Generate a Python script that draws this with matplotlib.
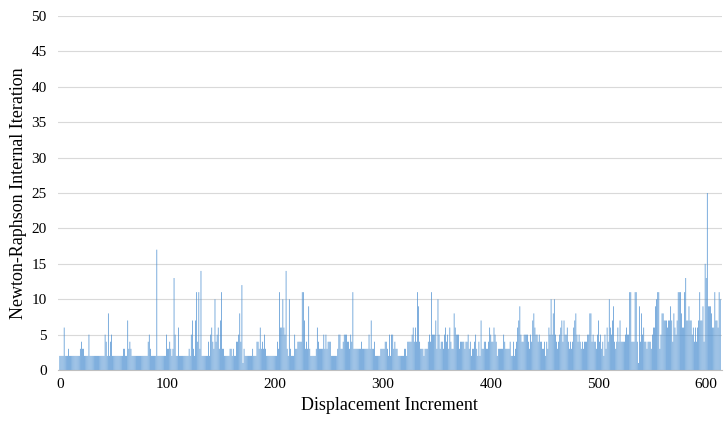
import numpy as np
import matplotlib
matplotlib.use("Agg")
import matplotlib.pyplot as plt

# Newton-Raphson iterations per displacement increment
iterations = [
    2, 2, 2, 2, 6, 2, 2, 2, 3, 2,
    2, 2, 2, 2, 2, 2, 2, 2, 2, 3,
    4, 3, 3, 2, 2, 2, 2, 5, 2, 2,
    2, 2, 2, 2, 2, 2, 2, 2, 2, 2,
    2, 2, 5, 4, 2, 8, 2, 4, 5, 2,
    2, 2, 2, 2, 2, 2, 2, 2, 2, 3,
    3, 2, 2, 7, 3, 4, 3, 2, 2, 2,
    2, 2, 2, 2, 2, 2, 2, 2, 2, 2,
    2, 2, 4, 5, 3, 2, 2, 2, 2, 2,
    17, 2, 2, 2, 2, 2, 2, 2, 2, 5,
    3, 3, 4, 3, 2, 3, 13, 5, 2, 2,
    6, 2, 2, 2, 2, 2, 2, 2, 2, 2,
    3, 2, 5, 7, 3, 2, 7, 11, 4, 11,
    3, 14, 2, 2, 2, 2, 2, 2, 4, 2,
    5, 6, 4, 3, 10, 4, 5, 6, 3, 7,
    11, 3, 3, 2, 2, 2, 2, 2, 3, 3,
    2, 3, 2, 2, 4, 4, 5, 8, 4, 12,
    1, 3, 2, 2, 2, 2, 2, 2, 2, 3,
    2, 2, 2, 4, 4, 3, 6, 3, 4, 3,
    5, 3, 2, 2, 2, 2, 2, 2, 2, 2,
    2, 2, 4, 3, 11, 6, 6, 10, 6, 5,
    14, 3, 2, 10, 3, 2, 2, 2, 5, 3,
    3, 4, 4, 4, 4, 11, 11, 7, 3, 4,
    3, 9, 3, 2, 2, 2, 2, 2, 3, 6,
    4, 3, 3, 3, 3, 5, 3, 5, 3, 4,
    4, 4, 2, 2, 2, 2, 2, 2, 3, 5,
    5, 3, 3, 4, 5, 5, 5, 4, 4, 3,
    5, 4, 11, 3, 3, 3, 3, 3, 3, 3,
    4, 3, 3, 3, 3, 3, 3, 5, 3, 7,
    3, 3, 4, 2, 2, 2, 2, 2, 3, 3,
    3, 3, 4, 4, 3, 2, 5, 2, 5, 5,
    3, 4, 3, 3, 2, 2, 2, 2, 2, 2,
    3, 3, 2, 4, 4, 4, 4, 5, 6, 4,
    6, 4, 11, 9, 4, 3, 3, 3, 2, 3,
    3, 3, 4, 5, 4, 11, 5, 5, 5, 7,
    3, 10, 5, 3, 4, 4, 3, 5, 6, 4,
    5, 3, 6, 4, 3, 3, 8, 6, 5, 5,
    5, 3, 4, 4, 4, 4, 3, 4, 4, 5,
    3, 4, 2, 3, 3, 4, 5, 3, 2, 4,
    2, 7, 3, 3, 4, 4, 3, 3, 4, 6,
    5, 4, 4, 6, 5, 4, 2, 3, 3, 3,
    3, 3, 5, 4, 3, 3, 3, 3, 4, 2,
    2, 4, 2, 3, 4, 6, 7, 9, 5, 4,
    4, 5, 5, 5, 5, 4, 3, 5, 4, 7,
    8, 6, 5, 5, 4, 5, 4, 4, 3, 3,
    4, 2, 4, 3, 6, 5, 10, 5, 8, 10,
    5, 4, 3, 4, 5, 6, 7, 4, 7, 5,
    5, 6, 4, 3, 4, 3, 4, 6, 7, 8,
    5, 4, 5, 4, 3, 4, 3, 4, 4, 4,
    5, 5, 8, 8, 4, 5, 4, 4, 3, 5,
    7, 4, 5, 3, 4, 2, 5, 3, 6, 4,
    10, 6, 5, 7, 9, 4, 3, 4, 6, 4,
    7, 4, 4, 4, 4, 5, 6, 5, 5, 11,
    11, 4, 4, 4, 11, 11, 4, 1, 9, 4,
    8, 5, 6, 4, 4, 3, 4, 4, 4, 3,
    5, 6, 6, 9, 10, 11, 11, 3, 5, 8,
    8, 7, 7, 7, 6, 7, 7, 9, 7, 4,
    8, 6, 5, 7, 11, 11, 11, 8, 6, 6,
    11, 13, 7, 7, 9, 7, 7, 5, 6, 4,
    6, 4, 6, 7, 11, 7, 7, 9, 4, 15,
    13, 25, 9, 9, 9, 8, 6, 6, 11, 7,
    7, 6, 11, 10,
]
increments = np.arange(len(iterations))

x_ticks = [0, 100, 200, 300, 400, 500, 600]
y_ticks = [0, 5, 10, 15, 20, 25, 30, 35, 40, 45, 50]

plt.rcParams['font.family'] = ['Liberation Serif', 'DejaVu Serif']

fig, ax = plt.subplots(figsize=(7.24, 4.21), dpi=100)
fig.subplots_adjust(left=0.080, right=0.997, top=0.962, bottom=0.121)

bars = ax.bar(increments, iterations, width=0.65, color='#4A8ED0',
              linewidth=0, zorder=2)
for b in bars:
    b.set_snap(False)

ax.set_xlim(-1.8, 614.5)
ax.set_ylim(0, 50)
ax.set_xticks(x_ticks)
ax.set_yticks(y_ticks)
ax.yaxis.grid(True, color='#D9D9D9', linewidth=0.8, zorder=0)
ax.set_axisbelow(True)

for side in ['top', 'right', 'left']:
    ax.spines[side].set_visible(False)
ax.spines['bottom'].set_color('#BFBFBF')
ax.tick_params(axis='both', length=0, labelsize=11, colors='#000000', pad=6)
ax.tick_params(axis='y', pad=8)

ax.set_xlabel('Displacement Increment', fontsize=13, labelpad=4)
ax.set_ylabel('Newton-Raphson Internal Iteration', fontsize=13, labelpad=3)

plt.savefig('out.png', dpi=100)
